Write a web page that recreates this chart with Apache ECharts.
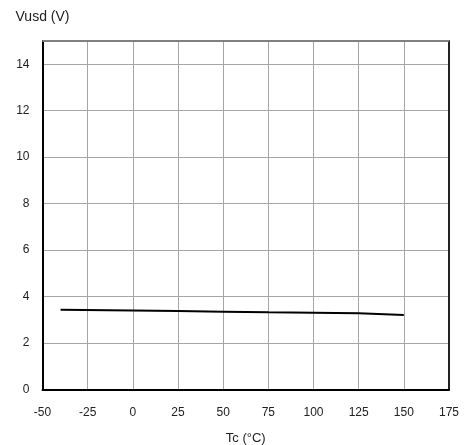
<!DOCTYPE html>
<html>
<head>
<meta charset="utf-8">
<script src="https://cdn.jsdelivr.net/npm/echarts@6/dist/echarts.min.js"></script>
<style>
  html, body { margin: 0; padding: 0; background: #fff; }
  #chart { width: 464px; height: 445px; }
</style>
</head>
<body>
<div id="chart"></div>
<script>
// Case temperature (°C) and the matching Vusd reading (V)
const tempC = [-40, 0, 25, 50, 75, 100, 125, 150];
const vusd = [3.43, 3.40, 3.38, 3.35, 3.32, 3.30, 3.28, 3.21];

const xMin = -50, xMax = 175, xStep = 25;
const yMin = 0, yMax = 15, yStep = 2;

const font = '"Liberation Sans", Arial, sans-serif';

const chart = echarts.init(document.getElementById('chart'), null, { renderer: 'canvas' });

chart.setOption({
  animation: false,
  backgroundColor: '#ffffff',
  grid: { left: 42.5, right: 15, top: 41, bottom: 55.5, show: false, containLabel: false, outerBoundsMode: 'none' },
  xAxis: {
    type: 'value',
    min: xMin, max: xMax, interval: xStep,
    name: 'Tc (°C)',
    nameLocation: 'middle',
    nameGap: 42,
    nameTextStyle: { fontFamily: font, fontSize: 13, color: '#222' },
    axisLine: { show: true, onZero: false, lineStyle: { color: '#000', width: 2 } },
    axisTick: { show: false },
    axisLabel: { fontFamily: font, fontSize: 12, color: '#222', margin: 17 },
    splitLine: { show: true, lineStyle: { color: '#a6a6a6', width: 1 } }
  },
  yAxis: [{
    type: 'value',
    min: yMin, max: yMax, interval: yStep,
    name: 'Vusd (V)',
    nameLocation: 'end',
    nameGap: 17,
    nameTextStyle: { fontFamily: font, fontSize: 14, color: '#222', align: 'center' },
    axisLine: { show: true, onZero: false, lineStyle: { color: '#000', width: 2 } },
    axisTick: { show: false },
    axisLabel: { fontFamily: font, fontSize: 12, color: '#222', margin: 13, showMaxLabel: false },
    splitLine: { show: true, lineStyle: { color: '#a6a6a6', width: 1 } }
  }, {
    type: 'value',
    position: 'right',
    min: yMin, max: yMax, interval: yStep,
    axisLine: { show: true, onZero: false, lineStyle: { color: '#222', width: 2 } },
    axisTick: { show: false },
    axisLabel: { show: false },
    splitLine: { show: false }
  }],
  series: [{
    type: 'line',
    data: tempC.map((t, i) => [t, vusd[i]]),
    symbol: 'none',
    lineStyle: { color: '#000', width: 2 }
  }, {
    // top frame edge
    type: 'line',
    data: [],
    markLine: {
      silent: true, symbol: 'none', label: { show: false },
      lineStyle: { color: '#808080', width: 2, type: 'solid' },
      data: [{ yAxis: yMax }]
    }
  }]
});
</script>
</body>
</html>
